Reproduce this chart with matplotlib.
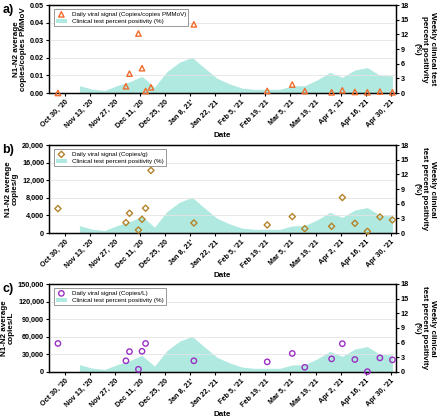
import matplotlib
matplotlib.use("Agg")
import matplotlib.pyplot as plt
import numpy as np
import pandas as pd

plt.rcParams['font.family'] = ['Liberation Sans', 'DejaVu Sans']
plt.rcParams['font.weight'] = 'bold'

# Clinical weekly percent positivity (right axis, %)
clin_dates = pd.to_datetime([
    "2020-11-07", "2020-11-14", "2020-11-21", "2020-11-28", "2020-12-05", "2020-12-12",
    "2020-12-19", "2020-12-26", "2021-01-02", "2021-01-09", "2021-01-16", "2021-01-23",
    "2021-01-30", "2021-02-06", "2021-02-13", "2021-02-20", "2021-02-27", "2021-03-06",
    "2021-03-13", "2021-03-20", "2021-03-27", "2021-04-03", "2021-04-10", "2021-04-17",
    "2021-04-24", "2021-05-01"])
clin_pos = [1.5, 0.8, 0.5, 1.5, 2.3, 3.4, 1.2, 4.4, 6.3, 7.3, 5.1, 3.0,
            1.85, 1.0, 0.75, 0.75, 0.75, 1.45, 1.5, 2.7, 4.2, 3.2, 4.7, 5.2, 3.6, 3.5]

# Sample dates of viral signal
sample_dates = pd.to_datetime([
    "2020-10-26", "2020-12-03", "2020-12-05", "2020-12-10", "2020-12-12", "2020-12-14",
    "2020-12-17", "2021-01-10", "2021-02-20", "2021-03-06", "2021-03-13", "2021-03-28",
    "2021-04-03", "2021-04-10", "2021-04-17", "2021-04-24", "2021-05-01"])

pmmov = [0.0, 0.0038, 0.011, 0.0338, 0.0141, 0.0011, 0.0032, 0.039, 0.0012, 0.0048,
         0.0011, 0.0004, 0.0015, 0.0006, 0.0004, 0.0008, 0.0004]
copies_g = [5550, 2360, 4490, 680, 3120, 5630, 14220, 2280, 1830, 3730, 990, 1520,
            8060, 2200, 380, 3650, 2970]
copies_L = [48650, 19100, 34750, 4630, 35330, 48650, 125700, 19100, 17300, 31600, 8000,
            22400, 48300, 21300, 600, 24100, 20700]

tick_dates = pd.date_range("2020-10-30", "2021-04-30", freq="14D")
tick_labels = ["Oct 30, '20", "Nov 13, '20", "Nov 27, '20", "Dec 11, '20", "Dec 25, '20",
               "Jan 8, 21'", "Jan 22, '21", "Feb 5, '21", "Feb 19, '21", "Mar 5, '21",
               "Mar 19, '21", "Apr 2, '21", "Apr 16, '21", "Apr 30, '21"]

panels = [
    dict(tag="a)", y=pmmov, ylim=0.05, yticks=np.arange(0, 0.051, 0.01),
         yfmt=lambda v: f"{v:.2f}", marker="^", color="#f26b2a",
         label="Daily viral signal (Copies/copies PMMoV)",
         ylabel="N1-N2 average\ncopies/copies PMMoV",
         rlabel="Weekly clinical test\npercent positivity\n(%)"),
    dict(tag="b)", y=copies_g, ylim=20000, yticks=np.arange(0, 20001, 4000),
         yfmt=lambda v: f"{int(v):,}", marker="D", color="#b5832a",
         label="Daily viral signal (Copies/g)",
         ylabel="N1-N2 average\ncopies/g",
         rlabel="Weekly clinical\ntest percent positivity\n(%)"),
    dict(tag="c)", y=copies_L, ylim=150000, yticks=np.arange(0, 150001, 30000),
         yfmt=lambda v: f"{int(v):,}", marker="o", color="#9b2fc4",
         label="Daily viral signal (Copies/L)",
         ylabel="N1-N2 average\ncopies/L",
         rlabel="Weekly clinical\ntest percent positivity\n(%)"),
]

fig = plt.figure(figsize=(4.4, 4.18), dpi=100)
bottoms = [1 - 93 / 418, 1 - 233 / 418, 1 - 372 / 418]
left, width, height = 49 / 440, 347 / 440, 88 / 418
xmin, xmax = pd.Timestamp("2020-10-21"), pd.Timestamp("2021-05-03")
fs = 5.2
lfs = 5.8

for p, b in zip(panels, bottoms):
    ax = fig.add_axes([left, b, width, height])
    ax2 = ax.twinx()
    ax.set_zorder(ax2.get_zorder() + 1)
    ax.patch.set_visible(False)

    ax2.fill_between(clin_dates, clin_pos, 0, color="#b0e9e0", lw=0,
                     label="Clinical test percent positivity (%)")
    ax2.set_ylim(0, 18)
    ax2.set_yticks(np.arange(0, 19, 3))
    ax2.tick_params(axis='y', labelsize=fs, length=2.5, width=0.8, pad=1)
    ax2.set_ylabel(p["rlabel"], rotation=270, fontsize=lfs, fontweight='bold',
                   labelpad=19, linespacing=1.1)

    for v in p["yticks"][1:-1]:
        ax.axhline(v, color="#e4e4e4", lw=0.6, zorder=0)
    ax.scatter(sample_dates, p["y"], marker=p["marker"], facecolors="none",
               edgecolors=p["color"], s=15 if p["marker"] != "D" else 10,
               linewidths=1.0, zorder=3, label=p["label"], clip_on=False)
    ax.set_ylim(0, p["ylim"])
    ax.set_yticks(p["yticks"])
    ax.set_yticklabels([p["yfmt"](v) for v in p["yticks"]])
    ax.tick_params(axis='y', labelsize=fs, length=2.5, width=0.8, pad=1)
    ax.set_xlim(xmin, xmax)
    ax.set_xticks(tick_dates)
    ax.set_xticklabels(tick_labels, rotation=45, ha='right', rotation_mode='anchor')
    ax.tick_params(axis='x', labelsize=fs, length=2.5, width=0.8, pad=1.5)
    ax.set_ylabel(p["ylabel"], fontsize=lfs, fontweight='bold', labelpad=2, linespacing=1.0)
    ax.set_xlabel("Date", fontsize=lfs, fontweight='bold', labelpad=1.5)
    for a in (ax, ax2):
        for s in a.spines.values():
            s.set_linewidth(0.9)

    h1, l1 = ax.get_legend_handles_labels()
    h2, l2 = ax2.get_legend_handles_labels()
    leg = ax.legend(h1 + h2, l1 + l2, loc='upper left', fontsize=4.5, frameon=True,
                    fancybox=False, edgecolor="#888888", framealpha=1,
                    borderpad=0.35, handlelength=1.7, labelspacing=0.25,
                    bbox_to_anchor=(0.005, 0.985))
    leg.get_frame().set_linewidth(0.6)
    for t in leg.get_texts():
        t.set_fontweight('normal')

    fig.text(0.005, b + height - 0.012, p["tag"], fontsize=9, fontweight='bold', va='center')

fig.savefig("out.png", dpi=100)
